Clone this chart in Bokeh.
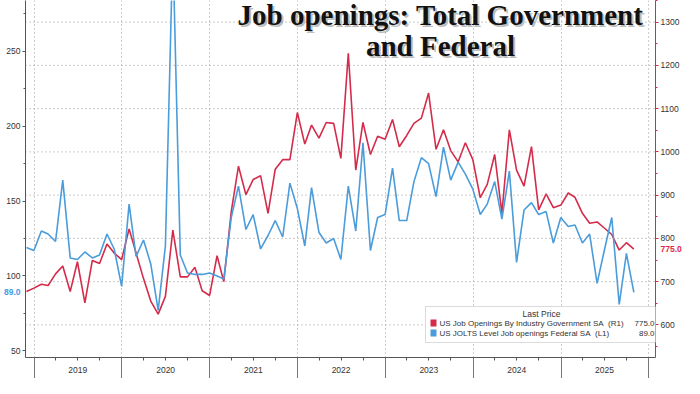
import pandas as pd
from bokeh.plotting import figure
from bokeh.models import LinearAxis, Range1d, FixedTicker, Label, BoxAnnotation, Span
from bokeh.embed import file_html
from bokeh.resources import INLINE

# ---------------- data (monthly, Nov 2018 - Oct 2025) ----------------
months = pd.date_range("2018-11-30", periods=84, freq="ME")

# US Job Openings By Industry Government SA (thousands, right axis)
gov = [677, 685, 694, 691, 718, 736, 677, 746, 651, 749, 742, 787,
       766, 751, 822, 766, 707, 655, 625, 666, 819, 711, 711, 733,
       679, 668, 760, 700, 862, 967, 901, 936, 945, 858, 960, 982,
       982, 1091, 1018, 1062, 1032, 1068, 1066, 985, 1228, 958, 1068, 994,
       1036, 1029, 1075, 1012, 1038, 1066, 1078, 1136, 1006, 1051, 1003, 977,
       1021, 982, 894, 925, 994, 858, 1051, 958, 921, 1012, 866, 903,
       871, 877, 905, 895, 858, 835, 838, 824, 809, 773, 790, 775]

# US JOLTS Level Job openings Federal SA (thousands, left axis)
fed = [119, 117, 130, 128, 123, 164, 112, 111, 116, 112, 114, 128,
       118, 93, 148, 113, 124, 108, 77, 120, 320, 114, 102, 101,
       101, 102, 100, 98, 139, 160, 131, 141, 118, 127, 137, 126,
       162, 145, 120, 159, 129, 122, 125, 111, 160, 130, 189, 117,
       139, 141, 172, 137, 137, 163, 179, 175, 153, 186, 164, 176,
       168, 158, 141, 148, 163, 138, 170, 109, 144, 149, 141, 143,
       122, 139, 133, 134, 122, 128, 95, 117, 139, 81, 115, 89]

years = [2019, 2020, 2021, 2022, 2023, 2024, 2025]
year_labels = ["2019", "2020", "2021", "2022", "2023", "2024", "2025"]
left_ticks = [50, 100, 150, 200, 250]
left_minor = [75, 125, 175, 225, 275]
right_ticks = [600, 700, 800, 900, 1000, 1100, 1200, 1300]
right_minor = [550, 650, 750, 850, 950, 1050, 1150, 1250, 1350]

gov_name = "US Job Openings By Industry Government SA\u00a0\u00a0(R1)"
fed_name = "US JOLTS Level Job openings Federal SA\u00a0\u00a0(L1)"
title_1 = "Job openings: Total Government"
title_2 = "and Federal"

RED = "#d52b4a"
BLUE = "#4a9cdb"
TAG_RED = "#e0284a"
TAG_BLUE = "#3f9be6"
AXIS = "#555555"
TXT = "#333333"
FONT = "Liberation Sans"


def ms(ts):
    return pd.Timestamp(ts).value / 1e6


year_bounds = [ms(f"{y}-01-01") for y in years + [years[-1] + 1]]
quarter_ticks = []
overrides = {}
for y, lab in zip(years, year_labels):
    for mth in ("04", "07", "10"):
        t = ms(f"{y}-{mth}-01")
        quarter_ticks.append(t)
        overrides[t] = lab if mth == "07" else ""

W, H = 684, 378
ML, MR, MT, MB = 20, 25, 0, 21

p = figure(width=W, height=H, x_axis_type="datetime",
           x_range=Range1d(ms("2018-11-26"), ms("2026-01-29")),
           y_range=Range1d(45.5, 284),
           output_backend="svg", toolbar_location=None,
           min_border_left=ML, min_border_right=MR, min_border_top=MT, min_border_bottom=MB,
           background_fill_color="white", border_fill_color="white")
p.outline_line_color = None
p.extra_y_ranges = {"right": Range1d(524.6, 1350)}
FW, FH = W - ML - MR, H - MT - MB

# ---- grids ----
p.ygrid.visible = False
p.xgrid.ticker = FixedTicker(ticks=year_bounds)
p.xgrid.grid_line_color = "#9a9a9a"
p.xgrid.grid_line_dash = "1 3"
p.xgrid.grid_line_width = 1
for v in right_ticks:
    p.add_layout(Span(location=v, dimension="width", y_range_name="right",
                      line_color="#9a9a9a", line_dash="1 3", line_width=1))

# ---- lines ----
p.line(months, gov, color=RED, line_width=1.6, y_range_name="right")
p.line(months, fed, color=BLUE, line_width=1.6)


def style_axis(ax, line_color, tick_color):
    ax.axis_line_color = line_color
    ax.major_tick_line_color = tick_color
    ax.minor_tick_line_color = tick_color
    ax.major_tick_in = 0
    ax.major_tick_out = 3
    ax.minor_tick_in = 0
    ax.minor_tick_out = 2
    ax.major_label_standoff = 2
    ax.major_label_text_font = FONT
    ax.major_label_text_font_size = "8.5px"
    ax.major_label_text_color = TXT


# ---- left axis ----
la = p.yaxis[0]
la.ticker = FixedTicker(ticks=left_ticks, minor_ticks=left_minor)
style_axis(la, AXIS, AXIS)

# ---- right axis ----
ra = LinearAxis(y_range_name="right", ticker=FixedTicker(ticks=right_ticks, minor_ticks=right_minor))
style_axis(ra, RED, RED)
p.add_layout(ra, "right")


# ---- last-value tags: outer axes pulled back over the label column ----
def tag_axis(val, range_name, bg, fg, standoff):
    kw = {} if range_name is None else {"y_range_name": range_name}
    ax = LinearAxis(ticker=FixedTicker(ticks=[float(val)], minor_ticks=[]), **kw)
    ax.major_label_overrides = {float(val): f"{val:.1f}"}
    ax.axis_line_color = None
    ax.major_tick_line_color = None
    ax.minor_tick_line_color = None
    ax.major_tick_in = 0
    ax.major_tick_out = 0
    ax.minor_tick_in = 0
    ax.minor_tick_out = 0
    ax.major_label_standoff = standoff
    ax.major_label_text_font = FONT
    ax.major_label_text_font_size = "8.5px"
    props = ax.properties()
    if "major_label_background_fill_color" in props:
        ax.major_label_background_fill_color = bg
        ax.major_label_text_color = fg
        if "major_label_padding" in props:
            ax.major_label_padding = 1
    else:
        ax.major_label_text_color = bg
        ax.major_label_text_font_style = "bold"
    return ax


p.add_layout(tag_axis(fed[-1], None, TAG_BLUE, "#0d2a55", -17), "left")
p.add_layout(tag_axis(gov[-1], "right", TAG_RED, "white", -22), "right")

# ---- bottom axis: quarter ticks, year labels at mid-year, long year separators ----
xa = p.xaxis[0]
xa.ticker = FixedTicker(ticks=quarter_ticks, minor_ticks=year_bounds)
xa.major_label_overrides = overrides
xa.axis_line_color = AXIS
xa.major_tick_line_color = AXIS
xa.minor_tick_line_color = "#777777"
xa.major_tick_in = 0
xa.major_tick_out = 3
xa.minor_tick_in = 0
xa.minor_tick_out = 21
xa.major_label_standoff = -12
xa.major_label_text_font = FONT
xa.major_label_text_font_size = "8.5px"
xa.major_label_text_color = TXT

# ---- title with shadow ----
TX = 415
for txt, ty in [(title_1, FH - 14.5), (title_2, FH - 45)]:
    p.add_layout(Label(x=TX + 2, y=ty - 2, x_units="screen", y_units="screen", text=txt,
                       text_align="center", text_baseline="alphabetic",
                       text_font="Liberation Serif", text_font_style="bold",
                       text_font_size="29px", text_color="#888888", text_alpha=0.55))
    p.add_layout(Label(x=TX, y=ty, x_units="screen", y_units="screen", text=txt,
                       text_align="center", text_baseline="alphabetic",
                       text_font="Liberation Serif", text_font_style="bold",
                       text_font_size="29px", text_color="#111111"))

# ---- legend ----
LX0, LX1, LY0, LY1 = 400, 632, 15, 51
p.add_layout(BoxAnnotation(left=LX0, right=LX1, bottom=LY0, top=LY1,
                           left_units="screen", right_units="screen",
                           top_units="screen", bottom_units="screen",
                           fill_color="white", fill_alpha=1.0,
                           line_color="#888888", line_width=1, level="overlay"))
p.add_layout(Label(x=(LX0 + LX1) / 2, y=44, x_units="screen", y_units="screen",
                   text="Last Price", text_align="center", text_baseline="middle",
                   text_font=FONT, text_font_size="8.5px", text_color=TXT, level="overlay"))
for (name, col, val), ry in zip([(gov_name, RED, gov[-1]), (fed_name, BLUE, fed[-1])], [34.5, 24.5]):
    p.add_layout(BoxAnnotation(left=LX0 + 5, right=LX0 + 11, bottom=ry - 3.5, top=ry + 3.5,
                               left_units="screen", right_units="screen",
                               top_units="screen", bottom_units="screen",
                               fill_color=col, fill_alpha=1.0, line_color=None, level="overlay"))
    p.add_layout(Label(x=LX0 + 14, y=ry, x_units="screen", y_units="screen", text=name,
                       text_align="left", text_baseline="middle", text_font=FONT,
                       text_font_size="8px", text_color=TXT, level="overlay"))
    p.add_layout(Label(x=LX1 - 3, y=ry, x_units="screen", y_units="screen", text=f"{val:.1f}",
                       text_align="right", text_baseline="middle", text_font=FONT,
                       text_font_size="8px", text_color=TXT, level="overlay"))

open("out.html", "w").write(file_html(p, INLINE))
